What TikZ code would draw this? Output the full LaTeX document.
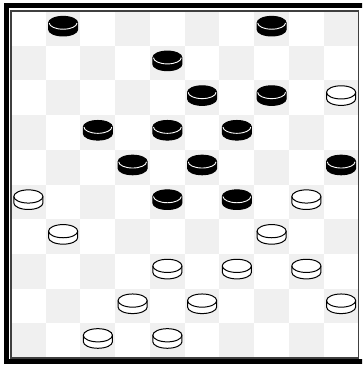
\documentclass[tikz,border=0pt]{standalone}
\usepackage{tikz}

\begin{document}
\begin{tikzpicture}[
    x=34.75pt, y=34.7pt,
    darksq/.style={fill=black!6},
    darkman/.style={fill=black, draw=black, line width=1pt},
    lightman/.style={fill=white, draw=black, line width=1pt},
    darkrim/.style={draw=white, line width=0.9pt},
    lightrim/.style={draw=black, line width=1pt}
]
\useasboundingbox (-0.3165,-0.2017) rectangle (10.101,10.317);
\clip (-0.3165,-0.2017) rectangle (10.101,10.317);

% board squares
\foreach \r in {0,...,9}
  \foreach \c in {0,...,9} {
    \pgfmathtruncatemacro\odd{mod(\r+\c,2)}
    \ifnum\odd=1
      \fill[darksq] (\c,9-\r) rectangle ++(1,1);
    \fi
  }

% frame
\draw[black!75, line width=1.2pt] (0,0) rectangle (10,10);
\draw[line width=5pt] (-0.1295,-0.115) rectangle (10.5,10.158);

% black men
\foreach \r/\c in {0/1, 0/7, 1/4, 2/5, 2/7, 3/2, 3/4, 3/6, 4/3, 4/5, 4/9, 5/4, 5/6} {
  \begin{scope}[shift={(\c+0.5,9.5-\r)}]
    \path[darkman] (-0.42,0.155) -- (-0.42,-0.03)
      arc[start angle=180, end angle=360, x radius=0.42, y radius=0.19]
      -- (0.42,0.155)
      arc[start angle=0, end angle=180, x radius=0.42, y radius=0.19] -- cycle;
    \path[darkrim] (-0.40,0.155)
      arc[start angle=180, end angle=360, x radius=0.40, y radius=0.18];
  \end{scope}
}

% white men
\foreach \r/\c in {2/9, 5/0, 5/8, 6/1, 6/7, 7/4, 7/6, 7/8, 8/3, 8/5, 8/9, 9/2, 9/4} {
  \begin{scope}[shift={(\c+0.5,9.5-\r)}]
    \path[lightman] (-0.42,0.155) -- (-0.42,-0.03)
      arc[start angle=180, end angle=360, x radius=0.42, y radius=0.19]
      -- (0.42,0.155)
      arc[start angle=0, end angle=180, x radius=0.42, y radius=0.19] -- cycle;
    \path[lightrim] (-0.42,0.155)
      arc[start angle=180, end angle=360, x radius=0.42, y radius=0.19];
  \end{scope}
}
\end{tikzpicture}
\end{document}
